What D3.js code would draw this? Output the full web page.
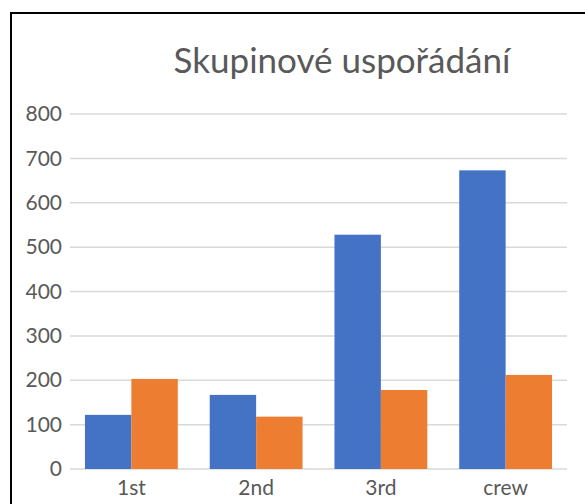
<!DOCTYPE html>
<html>
<head>
<meta charset="utf-8">
<script src="https://cdn.jsdelivr.net/npm/d3@7"></script>
<style>
  body { margin: 0; background: #fff; }
  svg { display: block; font-family: Lato, "Open Sans", sans-serif; }
</style>
</head>
<body>
<div id="chart"></div>
<script>
var categories = ['1st', '2nd', '3rd', 'crew']
var seriesNames = ['died', 'survived']
var died = [122, 167, 528, 673]
var survived = [203, 118, 178, 212]
var yTicks = [0, 100, 200, 300, 400, 500, 600, 700, 800]
var colors = ['#4472c4', '#ed7d31']

var width = 585
var height = 504

var svg = d3.select('#chart').append('svg')
  .attr('width', width)
  .attr('height', height)

// outer frame (runs off the right and bottom edges)
svg.append('rect')
  .attr('x', 11).attr('y', 13)
  .attr('width', 700).attr('height', 700)
  .attr('fill', 'none')
  .attr('stroke', '#000')
  .attr('stroke-width', 2)

svg.append('text')
  .attr('x', 342).attr('y', 73)
  .attr('text-anchor', 'middle')
  .attr('fill', '#595959')
  .style('font-size', '35px')
  .text('Skupinové uspořádání')

var x = d3.scaleBand().domain(categories).range([69, 568])
  .paddingInner(0.256).paddingOuter(0.128)
var xs = d3.scaleBand().domain(seriesNames).range([0, x.bandwidth()])
var y = d3.scaleLinear().domain([0, 800]).range([469, 114])

// gridlines
svg.append('g')
  .selectAll('line')
  .data(yTicks)
  .join('line')
  .attr('x1', 70).attr('x2', 567)
  .attr('y1', d => y(d)).attr('y2', d => y(d))
  .attr('stroke', '#d9d9d9')
  .attr('stroke-width', 1.5)

var yAxis = svg.append('g')
  .attr('transform', 'translate(70,0)')
  .call(d3.axisLeft(y).tickValues(yTicks).tickSize(0).tickPadding(8))
yAxis.select('.domain').remove()
yAxis.selectAll('text')
  .attr('fill', '#595959')
  .style('font-size', '21px')
  .style('font-family', 'Lato, sans-serif')

var rows = categories.map((c, i) => ({ cat: c, values: [died[i], survived[i]] }))

var groups = svg.append('g')
  .selectAll('g')
  .data(rows)
  .join('g')
  .attr('transform', d => 'translate(' + x(d.cat) + ',0)')

groups.selectAll('rect')
  .data(d => d.values.map((v, j) => ({ key: seriesNames[j], v: v, j: j })))
  .join('rect')
  .attr('x', d => xs(d.key))
  .attr('width', xs.bandwidth())
  .attr('y', d => y(d.v))
  .attr('height', d => y(0) - y(d.v))
  .attr('fill', d => colors[d.j])

var xAxis = svg.append('g')
  .attr('transform', 'translate(0,469)')
  .call(d3.axisBottom(x).tickSize(0).tickPadding(11))
xAxis.select('.domain').remove()
xAxis.selectAll('text')
  .attr('fill', '#595959')
  .style('font-size', '21px')
  .style('font-family', 'Lato, sans-serif')
</script>
</body>
</html>
